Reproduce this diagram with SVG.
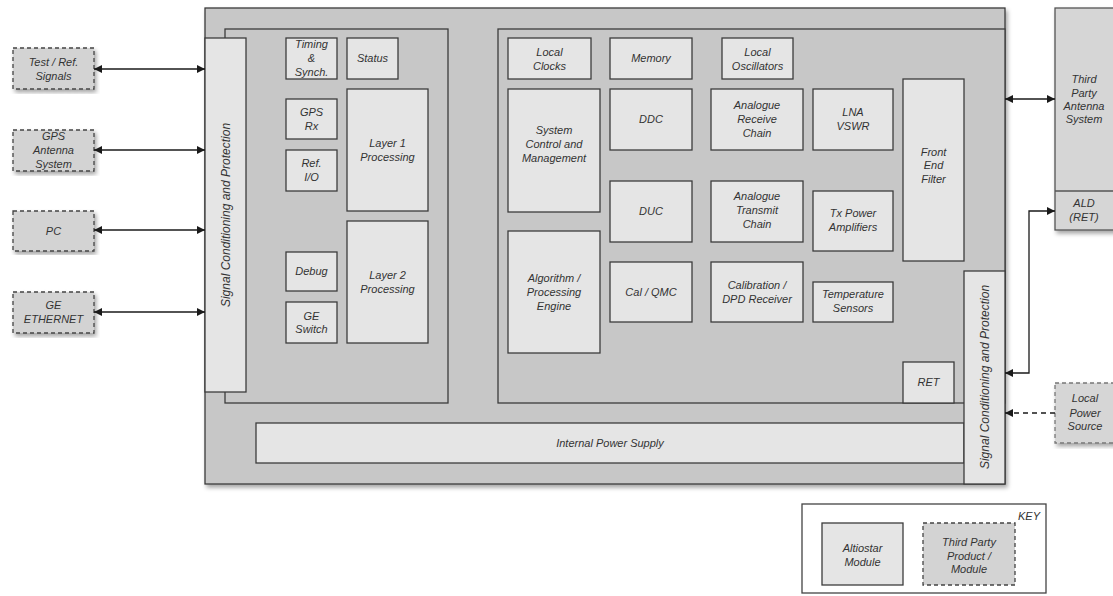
<svg xmlns="http://www.w3.org/2000/svg" width="1113" height="596" viewBox="0 0 1113 596">
<defs>
<style>
.n{fill:#e5e5e5;stroke:#3c3c3c;stroke-width:1.3}
.x{fill:#d3d3d3;stroke:#444;stroke-width:1.3;stroke-dasharray:4 3}
.p{fill:#c7c7c7;stroke:#3c3c3c;stroke-width:1.3}
.t{font-family:"Liberation Sans",Arial,sans-serif;font-style:italic;font-size:11px;fill:#333;text-anchor:middle}
.v{font-size:12px}
.c{stroke:#1a1a1a;stroke-width:1.3;fill:none}
</style>
<marker id="a" viewBox="0 0 10 10" refX="10" refY="5" markerWidth="9" markerHeight="8" markerUnits="userSpaceOnUse" orient="auto-start-reverse"><path d="M0,0L10,5L0,10z" fill="#1a1a1a"/></marker>
<filter id="sh" x="-5%" y="-5%" width="112%" height="115%"><feDropShadow dx="2" dy="3" stdDeviation="2" flood-color="#000" flood-opacity="0.35"/></filter>
</defs>
<rect width="1113" height="596" fill="#fff"/>

<g id="main-box">
<rect class="p" x="205" y="8" width="800" height="476" fill="#c4c4c4" filter="url(#sh)"/>
</g>
<g id="left-panel"><rect class="p" x="225" y="29" width="223" height="374"/></g>
<g id="right-panel"><rect class="p" x="498" y="29" width="507" height="374"/></g>

<g id="sig-left"><rect class="n" x="205" y="38" width="41" height="354"/>
<text class="t v" transform="translate(225.5,215) rotate(-90)" x="0" y="4">Signal Conditioning and Protection</text></g>

<g id="timing"><rect class="n" x="286" y="38" width="51" height="41"/><text class="t"><tspan x="311.5" y="48">Timing</tspan><tspan x="311.5" y="62">&amp;</tspan><tspan x="311.5" y="76">Synch.</tspan></text></g>
<g id="status"><rect class="n" x="347" y="38" width="51" height="41"/><text class="t" x="372.5" y="62">Status</text></g>
<g id="gps-rx"><rect class="n" x="286" y="99" width="51" height="40"/><text class="t"><tspan x="311.5" y="116">GPS</tspan><tspan x="311.5" y="130">Rx</tspan></text></g>
<g id="ref-io"><rect class="n" x="286" y="150" width="51" height="41"/><text class="t"><tspan x="311.5" y="167">Ref.</tspan><tspan x="311.5" y="181">I/O</tspan></text></g>
<g id="layer1"><rect class="n" x="347" y="89" width="81" height="122"/><text class="t"><tspan x="387.5" y="147">Layer 1</tspan><tspan x="387.5" y="161">Processing</tspan></text></g>
<g id="debug"><rect class="n" x="286" y="252" width="51" height="39"/><text class="t" x="311.5" y="275">Debug</text></g>
<g id="ge-switch"><rect class="n" x="286" y="302" width="51" height="41"/><text class="t"><tspan x="311.5" y="320">GE</tspan><tspan x="311.5" y="333">Switch</tspan></text></g>
<g id="layer2"><rect class="n" x="347" y="221" width="81" height="122"/><text class="t"><tspan x="387.5" y="279">Layer 2</tspan><tspan x="387.5" y="293">Processing</tspan></text></g>

<g id="local-clocks"><rect class="n" x="508" y="38" width="83" height="41"/><text class="t"><tspan x="549.5" y="56">Local</tspan><tspan x="549.5" y="70">Clocks</tspan></text></g>
<g id="memory"><rect class="n" x="610" y="38" width="82" height="41"/><text class="t" x="651" y="62">Memory</text></g>
<g id="local-osc"><rect class="n" x="722" y="38" width="71" height="41"/><text class="t"><tspan x="757.5" y="56">Local</tspan><tspan x="757.5" y="70">Oscillators</tspan></text></g>
<g id="sys-ctrl"><rect class="n" x="508" y="89" width="92" height="123"/><text class="t"><tspan x="554" y="134">System</tspan><tspan x="554" y="148">Control and</tspan><tspan x="554" y="162">Management</tspan></text></g>
<g id="ddc"><rect class="n" x="610" y="89" width="82" height="61"/><text class="t" x="651" y="123">DDC</text></g>
<g id="arx"><rect class="n" x="711" y="89" width="92" height="61"/><text class="t"><tspan x="757" y="109">Analogue</tspan><tspan x="757" y="123">Receive</tspan><tspan x="757" y="137">Chain</tspan></text></g>
<g id="duc"><rect class="n" x="610" y="181" width="82" height="61"/><text class="t" x="651" y="215">DUC</text></g>
<g id="atx"><rect class="n" x="711" y="181" width="92" height="61"/><text class="t"><tspan x="757" y="200">Analogue</tspan><tspan x="757" y="214">Transmit</tspan><tspan x="757" y="228">Chain</tspan></text></g>
<g id="algo"><rect class="n" x="508" y="231" width="92" height="122"/><text class="t"><tspan x="554" y="282">Algorithm /</tspan><tspan x="554" y="296">Processing</tspan><tspan x="554" y="310">Engine</tspan></text></g>
<g id="cal-qmc"><rect class="n" x="610" y="262" width="82" height="60"/><text class="t" x="651" y="296">Cal / QMC</text></g>
<g id="cal-dpd"><rect class="n" x="711" y="262" width="92" height="60"/><text class="t"><tspan x="757" y="289">Calibration /</tspan><tspan x="757" y="303">DPD Receiver</tspan></text></g>
<g id="lna"><rect class="n" x="813" y="89" width="80" height="61"/><text class="t"><tspan x="853" y="116">LNA</tspan><tspan x="853" y="130">VSWR</tspan></text></g>
<g id="txpa"><rect class="n" x="813" y="191" width="80" height="60"/><text class="t"><tspan x="853" y="217">Tx Power</tspan><tspan x="853" y="231">Amplifiers</tspan></text></g>
<g id="temp"><rect class="n" x="813" y="282" width="80" height="40"/><text class="t"><tspan x="853" y="298">Temperature</tspan><tspan x="853" y="312">Sensors</tspan></text></g>
<g id="fef"><rect class="n" x="903" y="79" width="61" height="182"/><text class="t"><tspan x="933.5" y="156">Front</tspan><tspan x="933.5" y="169">End</tspan><tspan x="933.5" y="183">Filter</tspan></text></g>
<g id="ret"><rect class="n" x="903" y="362" width="51" height="41"/><text class="t" x="928.5" y="386">RET</text></g>

<g id="power-supply"><rect class="n" x="256" y="423" width="708" height="40"/><text class="t" x="610" y="447">Internal Power Supply</text></g>
<g id="sig-right"><rect class="n" x="964" y="271" width="41" height="213"/>
<text class="t v" transform="translate(984.5,377) rotate(-90)" x="0" y="4">Signal Conditioning and Protection</text></g>

<g id="ext-test"><rect class="x" x="13" y="48" width="81" height="41" filter="url(#sh)"/><text class="t"><tspan x="53.5" y="66">Test / Ref.</tspan><tspan x="53.5" y="80">Signals</tspan></text></g>
<g id="ext-gps"><rect class="x" x="13" y="130" width="81" height="41" filter="url(#sh)"/><text class="t"><tspan x="53.5" y="140">GPS</tspan><tspan x="53.5" y="154">Antenna</tspan><tspan x="53.5" y="168">System</tspan></text></g>
<g id="ext-pc"><rect class="x" x="13" y="211" width="81" height="40" filter="url(#sh)"/><text class="t" x="53.5" y="235">PC</text></g>
<g id="ext-ge"><rect class="x" x="13" y="292" width="81" height="41" filter="url(#sh)"/><text class="t"><tspan x="53.5" y="309">GE</tspan><tspan x="53.5" y="323">ETHERNET</tspan></text></g>

<g id="antenna"><rect x="1055" y="8" width="62" height="222" fill="#d6d6d6" stroke="#555" stroke-width="1.3" filter="url(#sh)"/><line x1="1055" y1="191" x2="1113" y2="191" stroke="#555" stroke-width="1.3"/>
<text class="t"><tspan x="1084" y="83">Third</tspan><tspan x="1084" y="97">Party</tspan><tspan x="1084" y="110">Antenna</tspan><tspan x="1084" y="123">System</tspan><tspan x="1084" y="207">ALD</tspan><tspan x="1084" y="221">(RET)</tspan></text></g>
<g id="local-power"><rect x="1055" y="383" width="62" height="60" fill="#d6d6d6" stroke="#777" stroke-width="1.3" stroke-dasharray="4 3" filter="url(#sh)"/><text class="t"><tspan x="1085" y="402">Local</tspan><tspan x="1085" y="417">Power</tspan><tspan x="1085" y="430">Source</tspan></text></g>

<g id="connectors">
<line class="c" x1="94" y1="69" x2="205" y2="69" marker-start="url(#a)" marker-end="url(#a)"/>
<line class="c" x1="94" y1="150" x2="205" y2="150" marker-start="url(#a)" marker-end="url(#a)"/>
<line class="c" x1="94" y1="230" x2="205" y2="230" marker-start="url(#a)" marker-end="url(#a)"/>
<line class="c" x1="94" y1="312" x2="205" y2="312" marker-start="url(#a)" marker-end="url(#a)"/>
<line class="c" x1="1005" y1="99" x2="1055" y2="99" marker-start="url(#a)" marker-end="url(#a)"/>
<polyline class="c" points="1005,373 1029,373 1029,211 1055,211" marker-start="url(#a)" marker-end="url(#a)"/>
<line class="c" x1="1055" y1="413" x2="1005" y2="413" stroke-dasharray="5 4" marker-end="url(#a)"/>
</g>

<g id="key"><rect x="802" y="504" width="244" height="89" fill="#fff" stroke="#444" stroke-width="1.3"/>
<text class="t" x="1040" y="520" style="text-anchor:end">KEY</text>
<rect class="n" x="822" y="523" width="81" height="62"/><text class="t"><tspan x="862.5" y="552">Altiostar</tspan><tspan x="862.5" y="566">Module</tspan></text>
<rect class="x" x="923" y="523" width="92" height="62"/><text class="t"><tspan x="969" y="546">Third Party</tspan><tspan x="969" y="560">Product /</tspan><tspan x="969" y="573">Module</tspan></text>
</g>
</svg>
